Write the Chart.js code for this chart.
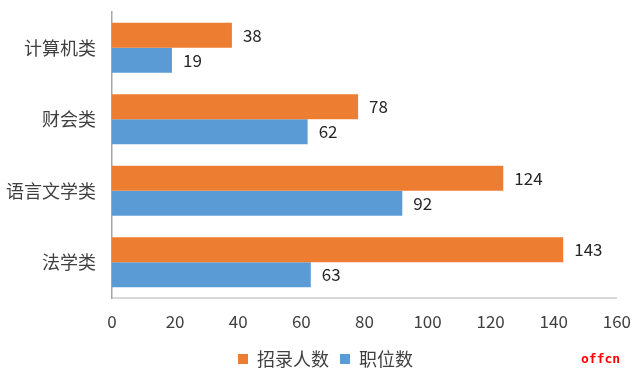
<!DOCTYPE html>
<html>
<head>
<meta charset="utf-8">
<script src="https://cdn.jsdelivr.net/npm/chart.js@4/dist/chart.umd.min.js"></script>
<style>
  html, body { margin: 0; padding: 0; background: #fff; }
  #wrap { position: relative; width: 644px; height: 376px; }
  #mark { position: absolute; left: 581px; top: 351px; color: #ff0000; font: bold 13px "DejaVu Sans Mono", monospace; }
</style>
</head>
<body>
<div id="wrap">
  <canvas id="chart" width="644" height="376"></canvas>
  <div id="mark">offcn</div>
</div>
<script>
// categories and series
const CATEGORIES = ['计算机类', '财会类', '语言文学类', '法学类'];
const HIRES = [38, 78, 124, 143];      // 招录人数
const POSITIONS = [19, 62, 92, 63];   // 职位数
const X_TICKS = [0, 20, 40, 60, 80, 100, 120, 140, 160];

const FONT = '"Noto Sans CJK SC", "Noto Sans", sans-serif';
const TEXT = '#404040';

// draws the value just right of each bar
const valueLabels = {
    id: 'valueLabels',
    afterDatasetsDraw(chart) {
        const ctx = chart.ctx;
        ctx.save();
        ctx.font = '17px ' + FONT;
        ctx.fillStyle = '#262626';
        ctx.textAlign = 'left';
        ctx.textBaseline = 'middle';
        chart.data.datasets.forEach((ds, i) => {
            chart.getDatasetMeta(i).data.forEach((bar, j) => {
                ctx.fillText(ds.data[j], bar.x + 11, bar.y);
            });
        });
        ctx.restore();
    }
};

// legend sits a bit right of centre and lower in the original
const legendShift = {
    id: 'legendShift',
    afterLayout(chart) {
        const lg = chart.legend;
        lg.left += 17;
        lg.right += 17;
        lg.top += 2;
        lg.bottom += 2;
    }
};

new Chart(document.getElementById('chart'), {
    type: 'bar',
    data: {
        labels: CATEGORIES,
        datasets: [
            { label: '招录人数', data: HIRES, backgroundColor: '#ED7D31' },
            { label: '职位数', data: POSITIONS, backgroundColor: '#5B9BD5' }
        ]
    },
    options: {
        indexAxis: 'y',
        responsive: false,
        animation: false,
        categoryPercentage: 0.7,
        barPercentage: 1.0,
        layout: { padding: { top: 12, right: 27, bottom: 0, left: 0 } },
        plugins: {
            legend: {
                position: 'bottom',
                labels: {
                    boxWidth: 10,
                    boxHeight: 10,
                    padding: 11,
                    color: TEXT,
                    font: { family: FONT, size: 18 }
                }
            },
            tooltip: { enabled: false }
        },
        scales: {
            x: {
                min: 0,
                max: 160,
                afterBuildTicks: axis => { axis.ticks = X_TICKS.map(v => ({ value: v })); },
                afterFit: axis => { axis.height = 39; },
                grid: { display: false, drawTicks: false },
                border: { display: true, color: '#d9d9d9', width: 2 },
                ticks: { color: TEXT, padding: 13, font: { family: FONT, size: 17 } }
            },
            y: {
                afterFit: axis => { axis.width = 112; },
                // tick length gives the label gap without adding vertical padding
                grid: { display: false, drawTicks: true, tickLength: 16 },
                border: { display: true, color: '#a6a6a6', width: 1.5 },
                ticks: { color: TEXT, padding: 0, font: { family: FONT, size: 18 } }
            }
        }
    },
    plugins: [valueLabels, legendShift]
});
</script>
</body>
</html>
